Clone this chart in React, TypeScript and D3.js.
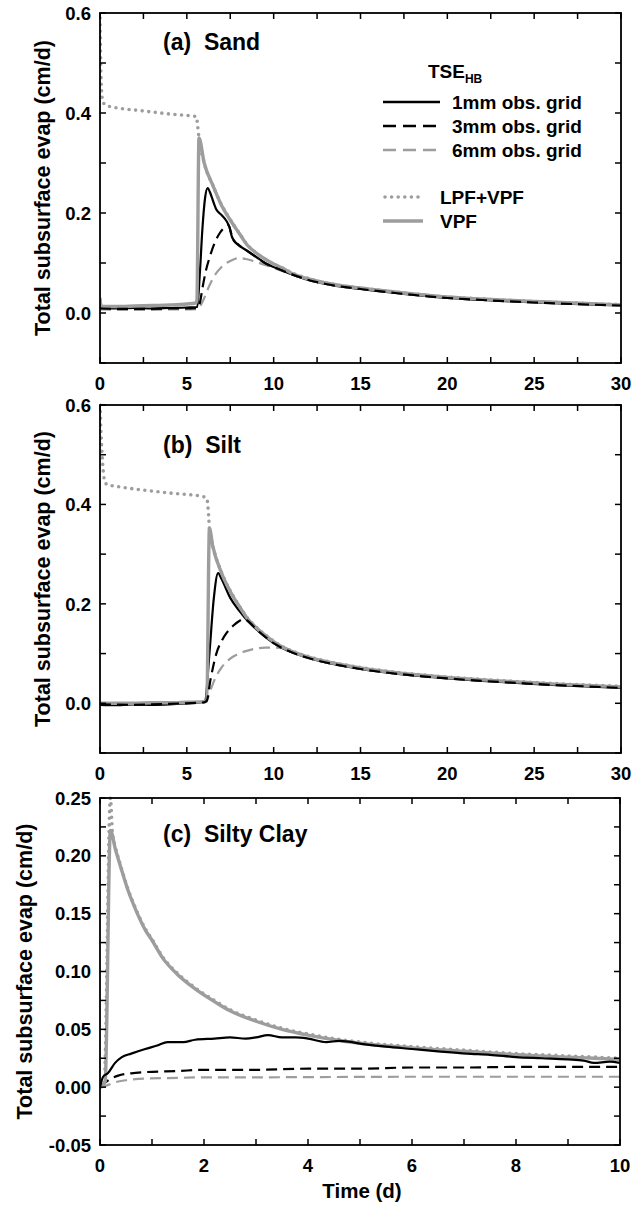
import React from 'react';
import * as d3 from 'd3';

type Pt = [number, number];

// ---------- Panel (a) Sand ----------
const sandLpfVpf: Pt[] = [[0,0.59],[0.03,0.52],[0.08,0.45],[0.15,0.425],[0.3,0.416],[1,0.41],[2,0.406],[3,0.402],[4,0.398],[5,0.395],[5.55,0.393],[5.62,0.375],[5.7,0.35],[6,0.3],[6.5,0.255],[7,0.216],[7.5,0.187],[8,0.161],[8.5,0.136],[9,0.12],[9.5,0.108],[10,0.098],[10.5,0.09],[11,0.081],[12,0.069],[13,0.06],[14,0.054],[15,0.05],[17,0.042],[20,0.032],[22,0.028],[25,0.023],[28,0.019],[30,0.017]];
const sandVpf: Pt[] = [[0,0.03],[0.05,0.016],[0.2,0.013],[1,0.013],[2,0.014],[3,0.015],[4,0.016],[5,0.018],[5.5,0.02],[5.58,0.025],[5.7,0.35],[6,0.3],[6.5,0.255],[7,0.215],[7.5,0.186],[8,0.16],[8.5,0.135],[9,0.12],[9.5,0.108],[10,0.098],[10.5,0.09],[11,0.08],[12,0.068],[13,0.06],[14,0.054],[15,0.05],[17,0.042],[20,0.032],[22,0.028],[25,0.023],[28,0.019],[30,0.016]];
const sand1mm: Pt[] = [[0,0.01],[1,0.009],[2,0.01],[3,0.009],[4,0.01],[5,0.011],[5.6,0.012],[5.75,0.08],[5.9,0.17],[6.05,0.23],[6.2,0.25],[6.35,0.24],[6.5,0.225],[6.7,0.207],[7,0.196],[7.3,0.183],[7.45,0.172],[7.6,0.152],[7.9,0.138],[8.4,0.126],[9,0.112],[9.5,0.1],[10,0.092],[10.5,0.085],[11,0.078],[12,0.066],[13,0.058],[14,0.052],[15,0.048],[17,0.04],[20,0.03],[22,0.026],[25,0.021],[28,0.017],[30,0.015]];
const sand3mm: Pt[] = [[0,0.009],[2,0.008],[4,0.009],[5.6,0.01],[5.75,0.02],[5.9,0.05],[6.1,0.085],[6.3,0.11],[6.6,0.14],[6.9,0.16],[7.2,0.172],[7.4,0.176],[7.55,0.16],[7.7,0.145],[8,0.136],[8.4,0.126],[9,0.112],[9.5,0.1],[10,0.092],[11,0.078],[12,0.066],[13,0.058],[15,0.048],[17,0.04],[20,0.03],[22,0.026],[25,0.021],[28,0.017],[30,0.015]];
const sand6mm: Pt[] = [[0,0.007],[2,0.006],[4,0.007],[5.6,0.008],[5.8,0.015],[6,0.03],[6.3,0.055],[6.6,0.075],[7,0.092],[7.5,0.104],[8,0.11],[8.4,0.108],[9,0.102],[9.6,0.095],[10,0.09],[11,0.078],[12,0.067],[13,0.059],[15,0.049],[17,0.041],[20,0.031],[25,0.022],[30,0.016]];

// ---------- Panel (b) Silt ----------
const siltLpfVpf: Pt[] = [[0,0.6],[0.05,0.55],[0.12,0.5],[0.25,0.45],[0.4,0.44],[1,0.436],[2,0.431],[3,0.427],[4,0.423],[5,0.42],[5.9,0.416],[6.15,0.412],[6.25,0.38],[6.3,0.352],[6.5,0.316],[7,0.263],[7.5,0.226],[8,0.197],[8.5,0.171],[9,0.153],[9.5,0.138],[10,0.125],[10.5,0.114],[11,0.106],[12,0.094],[13,0.085],[14,0.078],[15,0.072],[16,0.067],[18,0.059],[20,0.053],[22,0.048],[24,0.044],[26,0.04],[28,0.037],[30,0.034]];
const siltVpf: Pt[] = [[0,0],[1,0],[2,0],[3,0.001],[4,0.001],[5,0.002],[6,0.003],[6.15,0.005],[6.3,0.352],[6.5,0.315],[7,0.262],[7.5,0.225],[8,0.196],[8.5,0.17],[9,0.152],[9.5,0.137],[10,0.124],[10.5,0.113],[11,0.105],[12,0.093],[13,0.084],[14,0.077],[15,0.071],[16,0.066],[18,0.058],[20,0.052],[22,0.047],[24,0.043],[26,0.039],[28,0.036],[30,0.033]];
const silt1mm: Pt[] = [[0,-0.003],[1,-0.004],[2,-0.002],[3,-0.003],[4,-0.002],[5,0],[5.8,0.002],[6.05,0.005],[6.3,0.1],[6.55,0.21],[6.8,0.262],[7,0.25],[7.5,0.212],[8,0.187],[8.5,0.166],[9,0.149],[9.5,0.134],[10,0.121],[10.5,0.111],[11,0.103],[12,0.091],[13,0.082],[14,0.075],[15,0.069],[16,0.064],[18,0.056],[20,0.05],[22,0.045],[24,0.041],[26,0.037],[28,0.034],[30,0.031]];
const silt3mm: Pt[] = [[0,-0.002],[2,-0.003],[4,-0.001],[6,0.002],[6.15,0.005],[6.35,0.045],[6.7,0.1],[7,0.125],[7.3,0.142],[7.7,0.157],[8,0.165],[8.3,0.17],[8.5,0.166],[9,0.149],[9.5,0.134],[10,0.121],[10.5,0.111],[11,0.103],[12,0.091],[13,0.082],[14,0.075],[15,0.069],[16,0.064],[18,0.056],[20,0.05],[22,0.045],[24,0.041],[26,0.037],[28,0.034],[30,0.031]];
const silt6mm: Pt[] = [[0,-0.001],[2,0],[4,0],[6,0.002],[6.2,0.01],[6.4,0.03],[6.7,0.055],[7,0.072],[7.5,0.09],[8,0.1],[8.5,0.106],[9,0.11],[9.5,0.112],[10,0.112],[10.5,0.111],[11,0.105],[12,0.092],[13,0.083],[14,0.076],[15,0.07],[16,0.065],[18,0.057],[20,0.051],[22,0.046],[24,0.042],[26,0.038],[28,0.035],[30,0.032]];

// ---------- Panel (c) Silty Clay ----------
const clayLpfVpf: Pt[] = [[0,0],[0.08,0.004],[0.2,0.25],[0.24,0.22],[0.3,0.207],[0.4,0.191],[0.54,0.171],[0.7,0.153],[0.87,0.137],[1,0.128],[1.2,0.113],[1.5,0.098],[1.83,0.086],[2.2,0.075],[2.5,0.067],[3,0.058],[3.5,0.051],[4,0.046],[4.5,0.042],[5,0.039],[6,0.035],[7,0.032],[8,0.029],[9,0.027],[10,0.025]];
const clayVpf: Pt[] = [[0,0],[0.05,0.001],[0.1,0.005],[0.2,0.222],[0.3,0.205],[0.4,0.19],[0.54,0.17],[0.7,0.152],[0.87,0.136],[1,0.127],[1.2,0.112],[1.5,0.097],[1.83,0.085],[2.2,0.074],[2.5,0.066],[3,0.057],[3.5,0.05],[4,0.045],[4.5,0.041],[5,0.038],[6,0.034],[7,0.031],[8,0.028],[9,0.026],[10,0.024]];
const clay1mm: Pt[] = [[0,0],[0.06,0.009],[0.15,0.012],[0.29,0.021],[0.42,0.026],[0.6,0.029],[0.87,0.033],[1.1,0.036],[1.3,0.039],[1.6,0.039],[1.83,0.041],[2.2,0.042],[2.5,0.043],[2.8,0.042],[3,0.043],[3.23,0.045],[3.5,0.043],[3.76,0.043],[4,0.042],[4.35,0.039],[4.6,0.04],[5.1,0.037],[5.5,0.035],[6,0.033],[6.5,0.031],[7.05,0.029],[7.5,0.028],[8,0.026],[8.5,0.025],[9,0.024],[9.3,0.023],[9.5,0.021],[9.8,0.022],[10,0.021]];
const clay3mm: Pt[] = [[0,0],[0.1,0.004],[0.2,0.007],[0.35,0.01],[0.6,0.012],[0.87,0.013],[1.5,0.014],[2,0.015],[3,0.015],[4,0.016],[5,0.016],[6,0.017],[7,0.017],[8,0.0175],[9,0.0175],[10,0.0175]];
const clay6mm: Pt[] = [[0,0],[0.1,0.001],[0.27,0.004],[0.5,0.006],[0.87,0.0075],[1.5,0.008],[2,0.0085],[3,0.0085],[4,0.0087],[6,0.009],[8,0.009],[10,0.009]];

// ---------- Axis ticks ----------
const xTicksAB = [0, 5, 10, 15, 20, 25, 30];
const xMinorAB = [2.5, 7.5, 12.5, 17.5, 22.5, 27.5];
const yTicksAB = [0.0, 0.2, 0.4, 0.6];
const yMinorAB = [-0.1, 0.1, 0.3, 0.5];
const xTicksC = [0, 2, 4, 6, 8, 10];
const xMinorC = [1, 3, 5, 7, 9];
const yTicksC = [-0.05, 0.0, 0.05, 0.1, 0.15, 0.2, 0.25];
const yMinorC = [-0.025, 0.025, 0.075, 0.125, 0.175, 0.225];

const legendTSE = ['1mm obs. grid', '3mm obs. grid', '6mm obs. grid'];
const legendModel = ['LPF+VPF', 'VPF'];

const GREY = '#9d9d9d';
const FONT = '"Liberation Sans", Arial, Helvetica, sans-serif';

const styles = {
  mm1: { stroke: '#000', strokeWidth: 2.2, dash: undefined as string | undefined, cap: 'butt' },
  mm3: { stroke: '#000', strokeWidth: 2.2, dash: '11,6', cap: 'butt' },
  mm6: { stroke: GREY, strokeWidth: 2.2, dash: '11,6', cap: 'butt' },
  vpf: { stroke: GREY, strokeWidth: 3.4, dash: undefined as string | undefined, cap: 'butt' },
  lpf: { stroke: GREY, strokeWidth: 3.6, dash: '0,6.6', cap: 'round' },
};

type Key = keyof typeof styles;

type PanelProps = {
  id: string;
  left: number; right: number; top: number; bottom: number;
  xDomain: [number, number]; yDomain: [number, number];
  xTicks: number[]; xMinor: number[]; yTicks: number[]; yMinor: number[];
  yFmt: (v: number) => string;
  title: string; titleY: number;
  yTitleX: number;
  order: Key[];
  series: { lpf: Pt[]; vpf: Pt[]; mm1: Pt[]; mm3: Pt[]; mm6: Pt[] };
  children?: React.ReactNode;
};

function Panel(p: PanelProps) {
  const x = d3.scaleLinear().domain(p.xDomain).range([p.left, p.right]);
  const y = d3.scaleLinear().domain(p.yDomain).range([p.bottom, p.top]);
  const line = d3.line<Pt>().x(d => x(d[0])).y(d => y(d[1])).curve(d3.curveMonotoneX);
  const tl = 6;
  const allX = [...p.xTicks, ...p.xMinor];
  const allY = [...p.yTicks, ...p.yMinor];
  return (
    <g>
      <defs>
        <clipPath id={`clip-${p.id}`}>
          <rect x={p.left} y={p.top - 2} width={p.right - p.left} height={p.bottom - p.top + 2} />
        </clipPath>
      </defs>
      <g clipPath={`url(#clip-${p.id})`}>
        {p.order.map(k => (
          <path key={k} d={line(p.series[k]) || ''} fill="none" stroke={styles[k].stroke}
            strokeWidth={styles[k].strokeWidth} strokeDasharray={styles[k].dash}
            strokeLinecap={styles[k].cap as any} strokeLinejoin="round" />
        ))}
      </g>
      <rect x={p.left} y={p.top} width={p.right - p.left} height={p.bottom - p.top} fill="none" stroke="#000" strokeWidth={1.8} />
      {allX.map((v, i) => (
        <g key={'xt' + i}>
          <line x1={x(v)} x2={x(v)} y1={p.bottom} y2={p.bottom - tl} stroke="#000" strokeWidth={1.5} />
          <line x1={x(v)} x2={x(v)} y1={p.top} y2={p.top + tl} stroke="#000" strokeWidth={1.5} />
        </g>
      ))}
      {allY.map((v, i) => (
        <g key={'yt' + i}>
          <line x1={p.left} x2={p.left + tl} y1={y(v)} y2={y(v)} stroke="#000" strokeWidth={1.5} />
          <line x1={p.right} x2={p.right - tl} y1={y(v)} y2={y(v)} stroke="#000" strokeWidth={1.5} />
        </g>
      ))}
      {p.xTicks.map((v, i) => (
        <text key={'xl' + i} x={x(v)} y={p.bottom + 27} textAnchor="middle" fontSize={18.5} fontWeight="bold" fontFamily={FONT}>{String(v)}</text>
      ))}
      {p.yTicks.map((v, i) => (
        <text key={'yl' + i} x={p.left - 9} y={y(v)} dy="0.36em" textAnchor="end" fontSize={18.5} fontWeight="bold" fontFamily={FONT}>{p.yFmt(v)}</text>
      ))}
      <text x={163} y={p.titleY} fontSize={23} fontWeight="bold" fontFamily={FONT} style={{ whiteSpace: 'pre' }}>{p.title}</text>
      <text transform={`translate(${p.yTitleX},${(p.top + p.bottom) / 2}) rotate(-90)`} dy="0.36em" textAnchor="middle" fontSize={21.5} fontWeight="bold" fontFamily={FONT}>Total subsurface evap (cm/d)</text>
      {p.children}
    </g>
  );
}

function Legend() {
  const rows = [
    { k: 'mm1' as const, y: 102 },
    { k: 'mm3' as const, y: 126 },
    { k: 'mm6' as const, y: 150 },
  ];
  const rows2 = [
    { k: 'lpf' as const, y: 197 },
    { k: 'vpf' as const, y: 221 },
  ];
  return (
    <g fontFamily={FONT} fontWeight="bold">
      <text x={428} y={78} fontSize={19}>TSE<tspan fontSize={12} dy={5}>HB</tspan></text>
      {rows.map((r, i) => (
        <g key={r.k}>
          <line x1={383} x2={440} y1={r.y} y2={r.y} stroke={styles[r.k].stroke} strokeWidth={2.6} strokeDasharray={r.k === 'mm1' ? undefined : '13,7'} />
          <text x={452} y={r.y + 7} fontSize={19}>{legendTSE[i]}</text>
        </g>
      ))}
      {rows2.map((r, i) => (
        <g key={r.k}>
          <line x1={r.k === 'lpf' ? 385 : 383} x2={423} y1={r.y} y2={r.y} stroke={styles[r.k].stroke} strokeWidth={styles[r.k].strokeWidth} strokeDasharray={styles[r.k].dash} strokeLinecap={styles[r.k].cap as any} />
          <text x={440} y={r.y + 7} fontSize={19}>{legendModel[i]}</text>
        </g>
      ))}
    </g>
  );
}

const orderAB: Key[] = ['mm6', 'mm1', 'vpf', 'lpf', 'mm3'];
const orderC: Key[] = ['mm6', 'mm3', 'vpf', 'lpf', 'mm1'];

export default function App() {
  const fmt1 = (v: number) => d3.format('.1f')(v).replace('−', '-');
  const fmt2 = (v: number) => d3.format('.2f')(v).replace('−', '-');
  return (
    <svg width={631} height={1207} style={{ position: 'absolute', left: 0, top: 0, background: '#fff' }}>
      <rect width={631} height={1207} fill="#fff" />
      <Panel id="a" left={100} right={621} top={13} bottom={363}
        xDomain={[0, 30]} yDomain={[-0.1, 0.6]}
        xTicks={xTicksAB} xMinor={xMinorAB} yTicks={yTicksAB} yMinor={yMinorAB}
        yFmt={fmt1} title={'(a)  Sand'} titleY={50} yTitleX={42} order={orderAB}
        series={{ lpf: sandLpfVpf, vpf: sandVpf, mm1: sand1mm, mm3: sand3mm, mm6: sand6mm }}>
        <Legend />
      </Panel>
      <Panel id="b" left={100} right={621} top={405} bottom={753}
        xDomain={[0, 30]} yDomain={[-0.1, 0.6]}
        xTicks={xTicksAB} xMinor={xMinorAB} yTicks={yTicksAB} yMinor={yMinorAB}
        yFmt={fmt1} title={'(b)  Silt'} titleY={453} yTitleX={42} order={orderAB}
        series={{ lpf: siltLpfVpf, vpf: siltVpf, mm1: silt1mm, mm3: silt3mm, mm6: silt6mm }} />
      <Panel id="c" left={100} right={620} top={798} bottom={1145}
        xDomain={[0, 10]} yDomain={[-0.05, 0.25]}
        xTicks={xTicksC} xMinor={xMinorC} yTicks={yTicksC} yMinor={yMinorC}
        yFmt={fmt2} title={'(c)  Silty Clay'} titleY={842} yTitleX={24} order={orderC}
        series={{ lpf: clayLpfVpf, vpf: clayVpf, mm1: clay1mm, mm3: clay3mm, mm6: clay6mm }} />
      <text x={362} y={1198} textAnchor="middle" fontSize={20.5} fontWeight="bold" fontFamily={FONT}>Time (d)</text>
    </svg>
  );
}
